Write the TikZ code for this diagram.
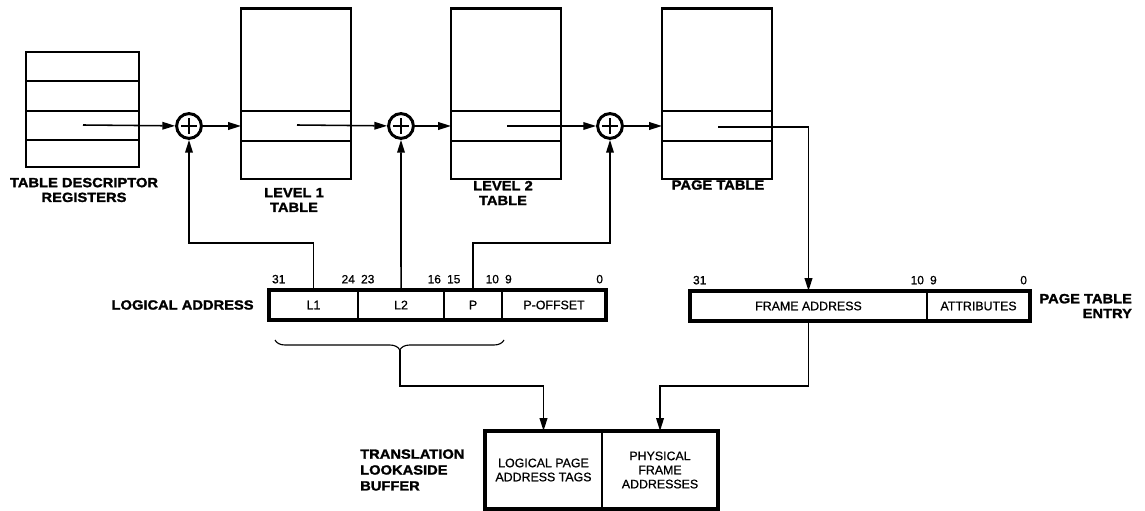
\documentclass[tikz,border=0pt]{standalone}
\usepackage{fontspec}
\setmainfont{Liberation Sans}
\newfontfamily\lblfont{Liberation Sans}[FakeStretch=1.1, FakeBold=1.6]
\newfontfamily\fieldfont{Liberation Sans}[FakeBold=0.8]
\usetikzlibrary{positioning, arrows.meta, decorations.pathreplacing}

\tikzset{
    tbl/.style={draw, line width=2.1pt, minimum width=2.75cm, minimum height=4.25cm, inner sep=0pt, outer sep=0pt},
    row/.style={line width=0.9pt},
    adder/.style={circle, draw, line width=2.1pt, minimum size=0.62cm, inner sep=0pt,
        path picture={\draw[line width=0.8pt]
            ([xshift=-0.19cm]path picture bounding box.center) -- ([xshift=0.19cm]path picture bounding box.center)
            ([yshift=-0.19cm]path picture bounding box.center) -- ([yshift=0.19cm]path picture bounding box.center);}},
    field/.style={draw, line width=0.9pt, minimum height=0.75cm, inner sep=0pt, outer sep=0pt, align=center,
        font=\fieldfont\fontsize{8.8}{10}\selectfont},
    frame/.style={line width=2.3pt},
    bitno/.style={font=\fieldfont\fontsize{8.5}{9}\selectfont, inner xsep=2pt, inner ysep=4.5pt},
    lbl/.style={font=\lblfont\bfseries\fontsize{9.5}{10.5}\selectfont, align=center},
    arr/.style={line width=1.1pt, -{Triangle[length=3.2mm,width=1.9mm]}}
}

\begin{document}
\begin{tikzpicture}[x=0.025cm, y=-0.025cm]
    \useasboundingbox (0,0) rectangle (1145,511);

    % ==========================================
    % Tables (Top)
    % ==========================================
    \node[tbl, minimum width=2.825cm, minimum height=2.875cm] (tdr) at (82.5,109.5) {};
    \node[tbl] (l1) at (296,94) {};
    \node[tbl] (l2) at (506,94) {};
    \node[tbl] (pt) at (717,94) {};

    % Row rules
    \foreach \ya in {81,111,140} {
        \draw[row] (26,\ya) -- (139,\ya);
    }
    \foreach \xa in {241,451,662} {
        \draw[row] (\xa,111) -- ++(110,0);
        \draw[row] (\xa,141) -- ++(110,0);
    }

    % Adders
    \node[adder] (add1) at (189,126) {};
    \node[adder] (add2) at (401,126) {};
    \node[adder] (add3) at (610,126) {};

    % Table labels
    \node[lbl] (tdrlbl) at (84,190) {TABLE DESCRIPTOR\\REGISTERS};
    \node[lbl] (l1lbl) at (294,200) {LEVEL 1\\TABLE};
    \node[lbl] (l2lbl) at (503,193) {LEVEL 2\\TABLE};
    \node[lbl] (ptlbl) at (718,185) {PAGE TABLE};

    % ==========================================
    % Logical address and page table entry (Middle)
    % ==========================================
    \node[field, minimum width=2.225cm] (la1) at (313.5,305) {L1};
    \node[field, minimum width=2.15cm, right=0pt of la1] (la2) {L2};
    \node[field, minimum width=1.45cm, right=0pt of la2] (la3) {P};
    \node[field, minimum width=2.6cm, right=0pt of la3] (la4) {P-OFFSET};
    \draw[frame] (la1.north west) rectangle (la4.south east);
    \node[lbl, left=0.26cm of la1] (lalbl) {LOGICAL ADDRESS};

    \node[field, minimum width=5.925cm] (pte1) at (808.5,306) {FRAME ADDRESS};
    \node[field, minimum width=2.575cm, right=0pt of pte1] (pte2) {ATTRIBUTES};
    \draw[frame] (pte1.north west) rectangle (pte2.south east);
    \node[lbl, align=right, right=0.11cm of pte2] (ptelbl) {PAGE TABLE\\ENTRY};

    % Bit numbers
    \foreach \f/\a/\t in {la1/west/31, la1/east/24, la2/west/23, la2/east/16,
                          la3/west/15, la3/east/10, la4/west/9, la4/east/0} {
        \node[bitno, anchor=south \a] (bla\t) at (\f.north \a) {\t};
    }
    \foreach \f/\a/\t in {pte1/west/31, pte1/east/10, pte2/west/9, pte2/east/0} {
        \node[bitno, anchor=south \a] (bpte\t) at (\f.north \a) {\t};
    }

    % ==========================================
    % Translation lookaside buffer (Bottom)
    % ==========================================
    \node[field, minimum width=2.925cm, minimum height=1.95cm] (tlb1) at (543.5,470) {LOGICAL PAGE\\ADDRESS TAGS};
    \node[field, minimum width=2.9cm, minimum height=1.95cm, right=0pt of tlb1] (tlb2) {PHYSICAL\\FRAME\\ADDRESSES};
    \draw[frame] (tlb1.north west) rectangle (tlb2.south east);
    \node[lbl, align=left, font=\lblfont\bfseries\fontsize{9.5}{11.3}\selectfont, left=0.39cm of tlb1] (tlblbl)
        {TRANSLATION\\LOOKASIDE\\BUFFER};

    % ==========================================
    % Connectors
    % ==========================================
    \coordinate (tdrout) at (83,125);
    \coordinate (l1out) at (297,125);
    \coordinate (l2out) at (507,126);
    \coordinate (ptout) at (718,127);
    \coordinate (upbus) at (0,243);
    \coordinate (tlbbus) at (0,386);

    \draw[arr] (tdrout) -- (add1);
    \draw[arr] (add1) -- (add1 -| l1.west);
    \draw[arr] (l1out) -- (add2);
    \draw[arr] (add2) -- (add2 -| l2.west);
    \draw[arr] (l2out) -- (add3);
    \draw[arr] (add3) -- (add3 -| pt.west);
    \draw[arr] (ptout) -| (pte1.north);

    \draw[arr] (la1.north) -- (la1.north |- upbus) -| (add1.south);
    \draw[arr] (la2.north) -- (add2.south);
    \draw[arr] (la3.north) -- (la3.north |- upbus) -| (add3.south);

    % Brace over L1, L2, P
    \coordinate (brl) at (275,340);
    \coordinate (brr) at (504,340);
    \coordinate (brtip) at (400,350);
    \draw[line width=0.8pt, decorate, decoration={brace, mirror, amplitude=0.25cm, aspect=0.545}] (brl) -- (brr);

    \draw[arr] (brtip) -- (brtip |- tlbbus) -| (tlb1.north);
    \draw[arr] (pte1.south) -- (pte1.south |- tlbbus) -| (tlb2.north);

\end{tikzpicture}
\end{document}
